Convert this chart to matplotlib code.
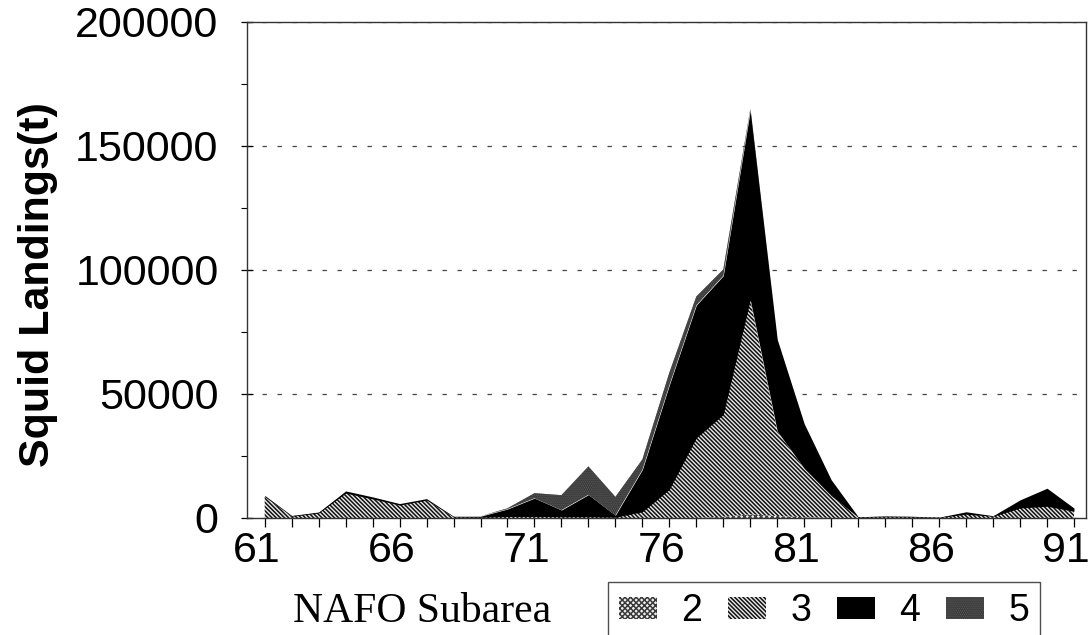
import numpy as np
import matplotlib
matplotlib.use("Agg")
import matplotlib.pyplot as plt
import matplotlib.ticker as ticker
import matplotlib.transforms as mtransforms

# ── Data ──────────────────────────────────────────────────────────────────────
years = list(range(61, 92))

# squid landings (t) by NAFO subarea, stacked 2 → 3 → 4 → 5
sub2 = [0, 0, 0, 0, 0, 0, 0, 0, 0, 0,
        0, 0, 0, 0, 0, 0, 0, 500, 1500, 800,
        300, 0, 0, 0, 0, 0, 0, 0, 0, 0, 0]
sub3 = [8600, 700, 2000, 10000, 7700, 5200, 7200, 400, 300, 600,
        600, 500, 500, 300, 2500, 11500, 32300, 41200, 86500, 34200,
        19700, 9000, 300, 500, 400, 200, 1500, 700, 4000, 4700, 2700]
sub4 = [500, 300, 400, 900, 800, 600, 600, 300, 400, 3000,
        7400, 2700, 8900, 800, 17000, 42100, 53500, 56000, 76300, 37000,
        18000, 6400, 200, 300, 300, 100, 1000, 200, 3300, 7300, 1300]
sub5 = [0, 0, 0, 0, 0, 0, 0, 0, 0, 300,
        2000, 6000, 11400, 7400, 4100, 5000, 3500, 2500, 500, 0,
        0, 0, 0, 0, 0, 0, 0, 0, 0, 0, 0]
series_labels = ["2", "3", "4", "5"]

yticks = [0, 50000, 100000, 150000, 200000]
xticks = [61, 66, 71, 76, 81, 86, 91]

plt.rcParams["font.family"] = ["Liberation Sans", "DejaVu Sans"]
plt.rcParams["hatch.linewidth"] = 1.1

fig = plt.figure(figsize=(10.91, 6.35), dpi=100)
ax = fig.add_axes([0.2264, 0.1843, 0.9954 - 0.2264, 0.9654 - 0.1843])

polys = ax.stackplot(years, sub2, sub3, sub4, sub5, labels=series_labels)

# fill styles: fine crosshatch, diagonal hatch, solid black, dark stipple
styles = [
    dict(face="#f0f0f0", edge="#3a3a3a", hatch="xxxxxx"),
    dict(face="#e8e8e8", edge="#111111", hatch="\\" * 8),
    dict(face="black", edge="black", hatch=None),
    dict(face="#1a1a1a", edge="#6e6e6e", hatch="." * 8),
]
for p, st in zip(polys, styles):
    p.set_facecolor(st["face"])
    p.set_edgecolor(st["edge"])
    p.set_hatch(st["hatch"])
    p.set_linewidth(0)

ax.set_xlim(60.344, 91.445)
ax.set_ylim(0, 200000)

ax.set_xticks(xticks)
ax.set_xticks(years, minor=True)
ax.tick_params(axis="x", which="both", direction="out", length=6.5,
               width=0.9, pad=3, labelsize=31)
ax.set_yticks(yticks)
ax.set_yticklabels([str(v) for v in yticks])
ax.yaxis.set_minor_locator(ticker.MultipleLocator(25000))
ax.tick_params(axis="y", which="major", direction="inout", length=9,
               width=0.9, pad=16, labelsize=31)
ax.tick_params(axis="y", which="minor", direction="out", length=4, width=0.8)

# x labels sit a little left of their ticks in the original
shift = mtransforms.ScaledTranslation(-0.08, 0, fig.dpi_scale_trans)
for lab in ax.get_xticklabels():
    lab.set_transform(lab.get_transform() + shift)

ax.yaxis.grid(True, which="major", linestyle=(0, (3.5, 8.5)),
              color="#444444", linewidth=0.9)
ax.set_axisbelow(True)

for sp in ax.spines.values():
    sp.set_linewidth(1.0)
    sp.set_color("#333333")

ax.set_ylabel("Squid Landings(t)", fontsize=31, fontweight="bold")
ax.yaxis.set_label_coords(-0.225, 0.47)

ax.set_xlabel("NAFO Subarea", fontsize=30, family=["Liberation Serif"],
              va="baseline")
ax.xaxis.set_label_coords(0.2086, -0.209)

leg = ax.legend(handles=polys, labels=series_labels, ncol=4,
                loc="upper left", bbox_to_anchor=(608 / 1091, 1 - 582 / 635),
                bbox_transform=fig.transFigure, fontsize=27,
                frameon=True, fancybox=False, shadow=False,
                handlelength=1.0, handleheight=0.55, handletextpad=0.65,
                columnspacing=0.7, borderpad=0.3, borderaxespad=0)
leg.get_frame().set_edgecolor("#222222")
leg.get_frame().set_linewidth(1.0)

fig.savefig("out.png", dpi=100)
